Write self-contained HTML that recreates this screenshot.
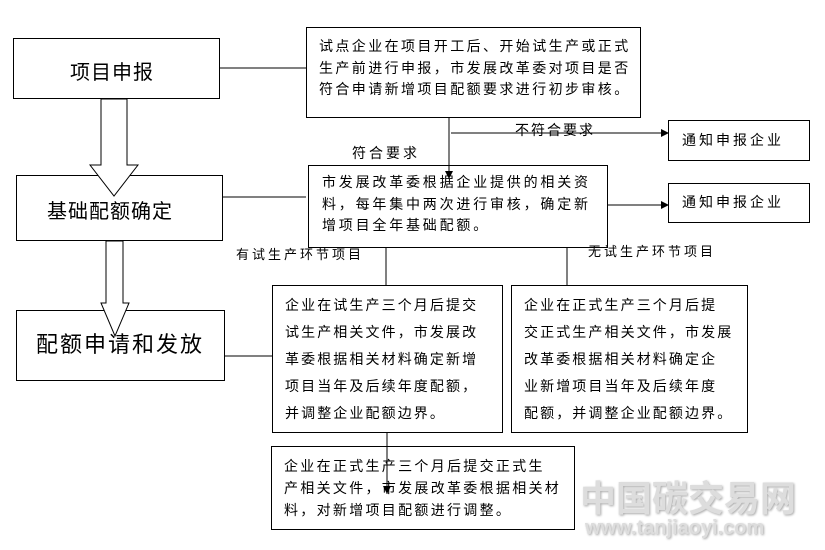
<!DOCTYPE html>
<html><head><meta charset="utf-8"><style>
body{margin:0;width:825px;height:550px;background:#fff;position:relative;overflow:hidden;font-family:"Liberation Sans","Noto Sans CJK SC",sans-serif;color:#000}
.b{position:absolute;border:1px solid #000;background:#fff;box-sizing:border-box}
.t{position:absolute;font-size:14px;white-space:nowrap;letter-spacing:2px}
.p{position:absolute;font-size:14px;letter-spacing:2.4px;line-height:21.5px;white-space:nowrap}
.q{position:absolute;font-size:14px;letter-spacing:2.1px;line-height:27px;white-space:nowrap}
svg{position:absolute;left:0;top:0}
</style></head><body>
<svg width="825" height="550">
<defs><marker id="a" markerWidth="8" markerHeight="8" refX="7" refY="4" orient="auto" markerUnits="userSpaceOnUse"><path d="M0,0L8,4L0,8z"/></marker></defs>
<g stroke="#000" stroke-width="1" fill="none">
<line x1="219" y1="68" x2="306" y2="68"/>
<line x1="222" y1="197" x2="306" y2="197"/>
<line x1="224" y1="356" x2="272" y2="356"/>
<line x1="449" y1="105" x2="449" y2="176" marker-end="url(#a)"/>
<line x1="451" y1="133" x2="668" y2="133" marker-end="url(#a)"/>
<line x1="607" y1="205" x2="668" y2="205" marker-end="url(#a)"/>
<line x1="386" y1="232" x2="386" y2="297" marker-end="url(#a)"/>
<line x1="567" y1="223" x2="567" y2="296" marker-end="url(#a)"/>
<line x1="387" y1="432" x2="387" y2="494" marker-end="url(#a)"/>
</g>
</svg>
<div class="b" style="left:13px;top:38px;width:207px;height:61px"></div>
<div class="t" style="left:70px;top:56px;font-size:20px;letter-spacing:1px">项目申报</div>
<div class="b" style="left:16px;top:175px;width:207px;height:66px"></div>
<div class="t" style="left:47px;top:195px;font-size:20px;letter-spacing:1px">基础配额确定</div>
<div class="b" style="left:16px;top:310px;width:209px;height:71px"></div>
<div class="t" style="left:36px;top:327px;font-size:22px;letter-spacing:2px">配额申请和发放</div>
<svg width="825" height="550"><g stroke="#000" fill="#fff" stroke-width="1">
<path d="M101,99V165H90L114,196L138,165H127V99Z"/>
<path d="M106,241V303H101L115,336L129,303H123V241Z"/>
</g></svg>
<div class="b" style="left:306px;top:27px;width:335px;height:91px"></div>
<div class="p" style="left:319px;top:36px">试点企业在项目开工后、开始试生产或正式<br>生产前进行申报，市发展改革委对项目是否<br>符合申请新增项目配额要求进行初步审核。</div>
<div class="t" style="left:515px;top:120px">不符合要求</div>
<div class="b" style="left:668px;top:120px;width:142px;height:41px"></div>
<div class="t" style="left:682px;top:130px;letter-spacing:3px">通知申报企业</div>
<div class="b" style="left:308px;top:165px;width:300px;height:83px"></div>
<div class="t" style="left:340px;top:143px;background:#fff;padding:0 12px;letter-spacing:3px">符合要求</div>
<div class="p" style="left:322px;top:172px;letter-spacing:2.8px">市发展改革委根据企业提供的相关资<br>料，每年集中两次进行审核，确定新<br>增项目全年基础配额。</div>
<svg width="825" height="550"><line x1="449" y1="160" x2="449" y2="176" stroke="#000"/><path d="M445,171L449,179L453,171z"/></svg>
<div class="b" style="left:668px;top:183px;width:142px;height:40px"></div>
<div class="t" style="left:682px;top:192px;letter-spacing:3px">通知申报企业</div>
<div class="t" style="left:236px;top:244px;font-size:13px;letter-spacing:3px">有试生产环节项目</div>
<div class="t" style="left:588px;top:241px;font-size:13px;letter-spacing:3px">无试生产环节项目</div>
<div class="b" style="left:272px;top:285px;width:231px;height:148px"></div>
<div class="q" style="left:285px;top:292px">企业在试生产三个月后提交<br>试生产相关文件，市发展改<br>革委根据相关材料确定新增<br>项目当年及后续年度配额，<br>并调整企业配额边界。</div>
<div class="b" style="left:511px;top:285px;width:237px;height:148px"></div>
<div class="q" style="left:524px;top:292px">企业在正式生产三个月后提<br>交正式生产相关文件，市发展<br>改革委根据相关材料确定企<br>业新增项目当年及后续年度<br>配额，并调整企业配额边界。</div>
<div class="b" style="left:271px;top:446px;width:304px;height:84px"></div>
<div class="p" style="left:284px;top:455px;line-height:22px;letter-spacing:2.3px">企业在正式生产三个月后提交正式生<br>产相关文件，市发展改革委根据相关材<br>料，对新增项目配额进行调整。</div>
<svg width="825" height="550"><line x1="387" y1="446" x2="387" y2="494" stroke="#000"/><path d="M383,486L387,494L391,486z"/></svg>
<div class="t" style="left:580px;top:470px;font-size:36px;font-weight:bold;color:#ddd;letter-spacing:0;text-shadow:1px 1px 2px #aaa">中国碳交易网</div>
<div class="t" style="left:585px;top:517px;font-size:20px;font-weight:bold;color:#ddd;letter-spacing:0;text-shadow:1px 1px 2px #aaa">www.tanjiaoyi.com</div>
</body></html>
